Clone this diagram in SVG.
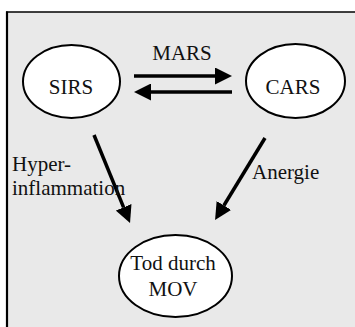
<svg xmlns="http://www.w3.org/2000/svg" width="355" height="327" viewBox="0 0 355 327">
  <style>
    .node { fill: #ffffff; stroke: #000000; stroke-width: 2; }
    .label { font-family: "Liberation Serif", "Times New Roman", serif; font-size: 21px; fill: #111111; }
    .mid { text-anchor: middle; }
    .edge { stroke: #000000; stroke-width: 3.5; fill: none; marker-end: url(#head); }
  </style>
  <defs>
    <marker id="head" viewBox="0 0 17 17" refX="0" refY="8.5" markerWidth="17" markerHeight="17" markerUnits="userSpaceOnUse" orient="auto">
      <path d="M0,0 L17,8.5 L0,17 z" fill="#000000"/>
    </marker>
  </defs>

  <!-- panel background and frame -->
  <rect x="0" y="0" width="355" height="327" fill="#ffffff"/>
  <rect x="7" y="12" width="348" height="315" fill="#e9e9e9"/>
  <line x1="6" y1="12" x2="355" y2="12" stroke="#000000" stroke-width="1.6"/>
  <line x1="7" y1="11.5" x2="7" y2="327" stroke="#000000" stroke-width="2.2"/>

  <g id="connectors">
    <line class="edge" x1="134" y1="76" x2="215" y2="76"/>
    <line class="edge" x1="232" y1="92" x2="151" y2="92"/>
    <line class="edge" x1="94" y1="135" x2="123.6" y2="207.3"/>
    <line class="edge" x1="265" y1="138" x2="223.9" y2="205.5"/>
    <text class="label mid" x="182" y="60">MARS</text>
    <text class="label" x="12" y="171">Hyper-</text>
    <text class="label" x="12" y="195">inflammation</text>
    <text class="label" x="252" y="179">Anergie</text>
  </g>

  <g id="sirs">
    <ellipse class="node" cx="71.5" cy="81.5" rx="48.5" ry="36.5"/>
    <text class="label mid" x="71" y="94">SIRS</text>
  </g>

  <g id="cars">
    <ellipse class="node" cx="295.5" cy="81" rx="49.5" ry="37"/>
    <text class="label mid" x="293" y="94">CARS</text>
  </g>

  <g id="mov">
    <ellipse class="node" cx="175.5" cy="276" rx="56.5" ry="41"/>
    <text class="label mid" x="173" y="270">Tod durch</text>
    <text class="label mid" x="173" y="296">MOV</text>
  </g>
</svg>
